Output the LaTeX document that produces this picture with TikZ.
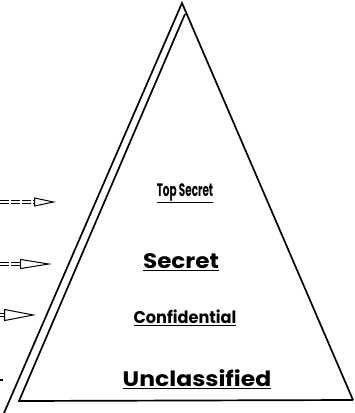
\documentclass[tikz,border=0pt]{standalone}
\usepackage{fontspec}
\setmainfont{Poppins}
\usetikzlibrary{arrows.meta}
\usetikzlibrary{positioning}

\tikzset{
  level/.style={inner sep=0pt, font=\bfseries},
  feed/.style={double, double distance=2.5pt, line width=1pt, dashed, dash pattern=on 9pt off 2pt,
    -{Triangle[open, length=22pt, width=9pt]}},
}

\begin{document}
\begin{tikzpicture}[x=1pt, y=-1pt, line width=1.7pt]
\useasboundingbox (0,0) rectangle (355,413);

% pyramid, double left edge
\coordinate (apex) at (182,3);
\coordinate (outerleft) at (4,413);
\coordinate (innerapex) at (185,14);
\coordinate (innerleft) at (19,401);
\coordinate (rightfoot) at (353,400);
\draw (outerleft) -- (apex) -- (rightfoot);
\draw (innerapex) -- (innerleft) -- (rightfoot);

% classification levels
\node[level] (topsecret) at (185,193) {\scalebox{0.58}[1]{\fontsize{18}{18}\selectfont\underline{Top Secret}}};
\node[level] (secret) at (181,262) {\scalebox{1.1}[1]{\fontsize{21}{21}\selectfont\underline{Secret}}};
\node[level] (confidential) at (185,318) {\scalebox{0.95}[1]{\fontsize{17}{17}\selectfont\underline{Confidential}}};
\node[level] (unclassified) at (197,379) {\scalebox{1.12}[1]{\fontsize{21}{21}\selectfont\underline{Unclassified}}};

% incoming arrows
\coordinate (in1) at (0,202);
\coordinate (tip1) at (56,202);
\coordinate (in2) at (0,264);
\coordinate (tip2) at (52,264);
\coordinate (in3) at (0,315);
\coordinate (tip3) at (36,315);
\coordinate (in4) at (0,380);
\coordinate (tip4) at (3,380);
\draw[feed] (in1) -- (tip1);
\draw[feed, -{Triangle[open, length=32pt, width=10pt]}] (in2) -- (tip2);
\draw[feed, -{Triangle[open, length=32pt, width=12pt]}] (in3) -- (tip3);
\draw (in4) -- (tip4);
\end{tikzpicture}
\end{document}
